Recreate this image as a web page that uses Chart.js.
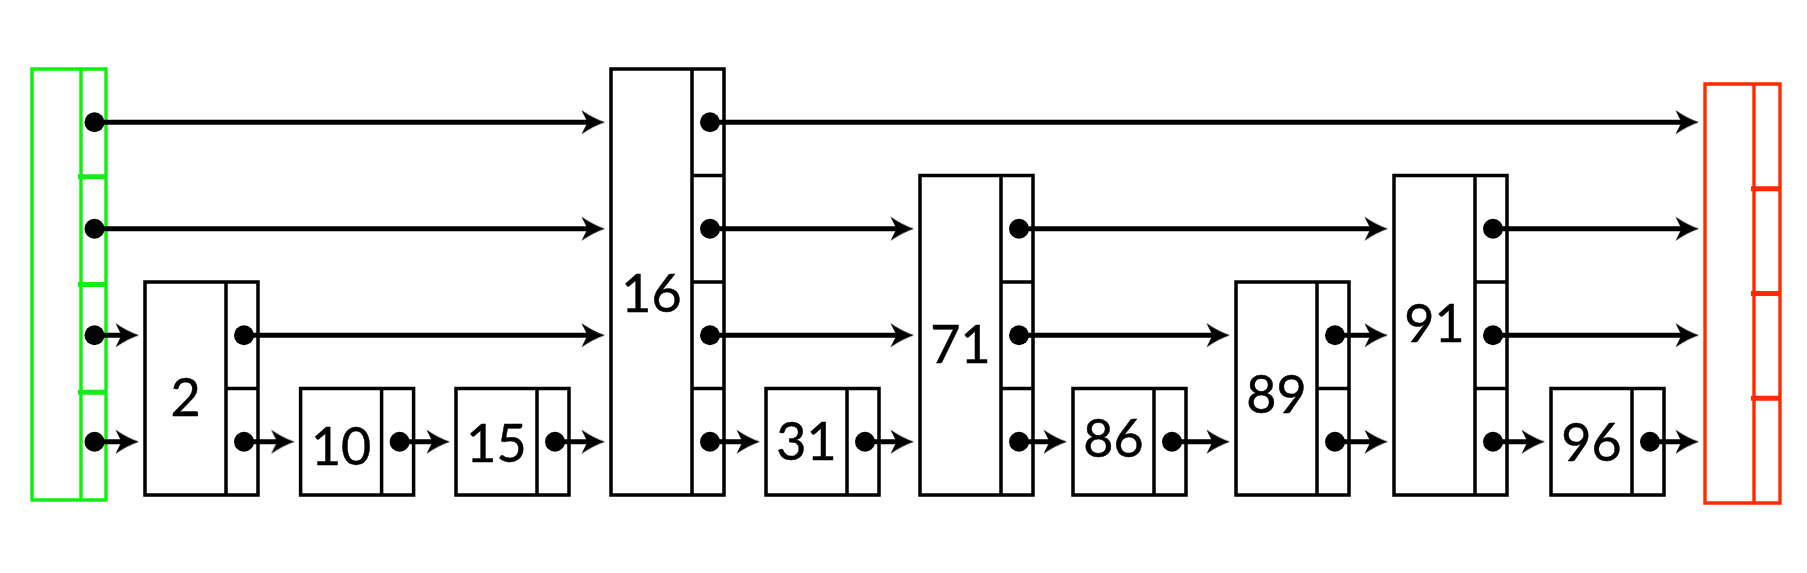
<!DOCTYPE html>
<html>
<head>
<meta charset="utf-8">
<script src="https://cdn.jsdelivr.net/npm/chart.js@4.4.1/dist/chart.umd.min.js"></script>
<style>
  html, body { margin: 0; padding: 0; background: #ffffff; overflow: hidden; }
  #wrap { width: 1807px; height: 573px; position: relative; }
</style>
</head>
<body>
<div id="wrap"><canvas id="c"></canvas></div>
<script>
// ---------------- Data (skip list) ----------------
const keys    = [2, 10, 15, 16, 31, 71, 86, 89, 91, 96];
const heights = [2, 1, 1, 4, 1, 3, 1, 2, 3, 1];
const maxLevel = 4;

// ---------------- Layout (axis units; x ~ px, y in levels) ----------------
const nodeLeft = [145, 300.6, 456, 611, 766, 920, 1073, 1236, 1394, 1551];
const nodeWidth = 113;
const nodeKeyWidth = 81;
const headLayout = { left: 32, width: 74, keyWidth: 49, bottom: -0.047, top: 4.0 };
const tailLayout = { left: 1705, width: 75, keyWidth: 49, bottom: -0.075, top: 3.859 };
const labelDy = [8.5, 5, 2, 11.5, 0, 9, -3, 5.5, -12, 1];

// ---------------- Styles ----------------
const BLACK = '#000000';
const GREEN = '#11ee11';
const RED = '#ff2a00';
const Y_MIN = (495 - 573) / 106.5;
const Y_MAX = 495 / 106.5;

// ---------------- Build structures ----------------
const nodes = [];
nodes.push({ left: headLayout.left, width: headLayout.width, keyWidth: headLayout.keyWidth,
  bottom: headLayout.bottom, top: headLayout.top, h: maxLevel, kind: 'head' });
keys.forEach((k, i) => nodes.push({ left: nodeLeft[i], width: nodeWidth, keyWidth: nodeKeyWidth,
  bottom: 0, top: heights[i], h: heights[i], kind: 'node', key: k, idx: i }));
nodes.push({ left: tailLayout.left, width: tailLayout.width, keyWidth: tailLayout.keyWidth,
  bottom: tailLayout.bottom, top: tailLayout.top, h: maxLevel, kind: 'tail' });

const GAP = { x: null, y: null };
function rect(out, x0, x1, yb, yt) {
  const m = (x0 + x1) / 2;
  out.push({ x: m, y: yt }, { x: x1, y: yt }, { x: x1, y: yb }, { x: x0, y: yb }, { x: x0, y: yt }, { x: m, y: yt }, GAP);
}
function seg(out, x0, y0, x1, y1) { out.push({ x: x0, y: y0 }, { x: x1, y: y1 }, GAP); }

const blackBoxes = [], greenBox = [], redBox = [], greenLevels = [], redLevels = [];
nodes.forEach(n => {
  const right = n.left + n.width, div = n.left + n.keyWidth;
  const box = n.kind === 'head' ? greenBox : n.kind === 'tail' ? redBox : blackBoxes;
  const lv = n.kind === 'head' ? greenLevels : n.kind === 'tail' ? redLevels : blackBoxes;
  rect(box, n.left, right, n.bottom, n.top);
  seg(box, div, n.bottom, div, n.top);
  for (let k = 1; k < n.h; k++) {
    const yy = n.bottom + (n.top - n.bottom) * k / n.h;
    seg(lv, n.kind === 'node' ? div : div - 3, yy, right, yy);
  }
});

const dots = [], arrowLines = [], arrowHeads = [];
nodes.forEach((n, i) => {
  if (n.kind === 'tail') return;
  const right = n.left + n.width, div = n.left + n.keyWidth;
  const dx = n.kind === 'head' ? (div + right) / 2 + 1 : right - 14;
  for (let l = 0; l < n.h; l++) {
    let j = i + 1;
    while (nodes[j].h <= l) j++;
    const tip = nodes[j].left - 6;
    const yy = l + 0.5;
    dots.push({ x: dx, y: yy });
    seg(arrowLines, dx, yy, tip - 14, yy);
    arrowHeads.push({ x: tip - 12, y: yy });
  }
});

// arrowhead glyph used as point style
const head = document.createElement('canvas');
head.width = 24; head.height = 26;
(function () {
  const c = head.getContext('2d');
  c.fillStyle = BLACK;
  c.beginPath();
  c.moveTo(24, 13);
  c.quadraticCurveTo(13, 9.5, 0.5, 1);
  c.lineTo(6.5, 13);
  c.lineTo(0.5, 25);
  c.quadraticCurveTo(13, 16.5, 24, 13);
  c.closePath();
  c.fill();
})();

const keyLabels = {
  id: 'keyLabels',
  afterDatasetsDraw(chart) {
    const { ctx, scales: { x, y } } = chart;
    const size = 52;
    ctx.save();
    ctx.font = '400 ' + size + 'px Lato, "Open Sans", sans-serif';
    ctx.fillStyle = BLACK;
    ctx.strokeStyle = BLACK;
    ctx.lineWidth = 0.5;
    ctx.lineJoin = 'round';
    ctx.textAlign = 'center';
    ctx.textBaseline = 'alphabetic';
    const capH = size * 0.7165;
    keys.forEach((k, i) => {
      const cx = x.getPixelForValue(nodeLeft[i] + nodeKeyWidth / 2);
      const cy = y.getPixelForValue(heights[i] / 2) + labelDy[i];
      ctx.fillText(String(k), cx, cy + capH / 2);
      ctx.strokeText(String(k), cx, cy + capH / 2);
    });
    ctx.restore();
  }
};

function lineDs(data, color, width) {
  return { type: 'line', data, borderColor: color, borderWidth: width, pointRadius: 0,
    spanGaps: false, fill: false, tension: 0, borderCapStyle: 'butt', borderJoinStyle: 'miter' };
}

function build() {
  new Chart(document.getElementById('c'), {
    type: 'line',
    data: {
      datasets: [
        { type: 'line', data: arrowHeads, showLine: false, pointStyle: head, pointRadius: 6,
          pointBorderWidth: 0, backgroundColor: BLACK, borderColor: BLACK },
        { type: 'line', data: dots, showLine: false, pointStyle: 'circle', pointRadius: 10,
          pointBorderWidth: 0, pointBackgroundColor: BLACK, pointBorderColor: BLACK },
        lineDs(arrowLines, BLACK, 4.8),
        lineDs(greenLevels, GREEN, 5),
        lineDs(redLevels, RED, 5),
        lineDs(blackBoxes, BLACK, 3.5),
        lineDs(greenBox, GREEN, 3.4),
        lineDs(redBox, RED, 3.4)
      ]
    },
    options: {
      responsive: true,
      maintainAspectRatio: false,
      animation: false,
      events: [],
      layout: { padding: 0, autoPadding: false },
      plugins: { legend: { display: false }, tooltip: { enabled: false } },
      scales: {
        x: { type: 'linear', min: 0, max: 1807, display: false, bounds: 'data', offset: false },
        y: { type: 'linear', min: Y_MIN, max: Y_MAX, display: false, bounds: 'data', offset: false }
      }
    },
    plugins: [keyLabels]
  });
}

if (document.fonts && document.fonts.load) {
  document.fonts.load('52px Lato').then(build, build);
} else {
  build();
}
</script>
</body>
</html>
